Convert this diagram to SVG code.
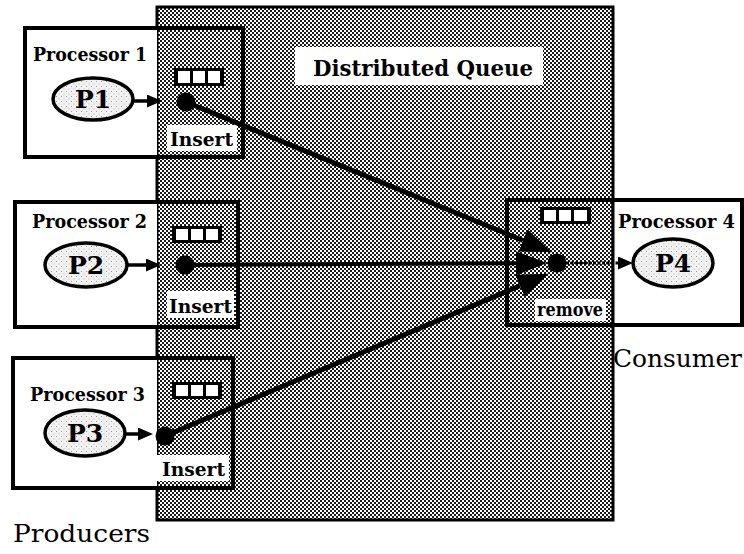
<svg xmlns="http://www.w3.org/2000/svg" width="744" height="554" viewBox="0 0 744 554">
  <defs>
    <!-- coarse halftone used for the shared queue area -->
    <pattern id="dither" width="4" height="4" patternUnits="userSpaceOnUse">
      <rect width="4" height="4" fill="#ffffff"/>
      <rect x="0" y="0" width="2" height="2" fill="#1a1a1a"/>
      <rect x="2" y="2" width="2" height="2" fill="#1a1a1a"/>
    </pattern>
    <!-- light speckle used inside process ellipses -->
    <pattern id="speckle" width="5" height="5" patternUnits="userSpaceOnUse">
      <rect width="5" height="5" fill="#f2f2f2"/>
      <rect x="1" y="1" width="1" height="1" fill="#9a9a9a"/>
      <rect x="3.5" y="3.5" width="1" height="1" fill="#b5b5b5"/>
    </pattern>
    <marker id="bigHead" markerUnits="userSpaceOnUse" markerWidth="32" markerHeight="26" refX="0" refY="12" orient="auto">
      <path d="M0,0 L31,12 L0,24 Z" fill="#000"/>
    </marker>
    <marker id="smallHead" markerUnits="userSpaceOnUse" markerWidth="16" markerHeight="14" refX="0" refY="6.5" orient="auto">
      <path d="M0,0 L15,6.5 L0,13 Z" fill="#000"/>
    </marker>
  </defs>
  <style>
    .box { fill: none; stroke: #000; stroke-width: 4; }
    .white { fill: #fff; }
    .proc { font-family: "DejaVu Serif", "Liberation Serif", serif; font-weight: bold; font-size: 18px; fill: #000; }
    .pid { font-family: "DejaVu Serif", "Liberation Serif", serif; font-weight: bold; font-size: 25px; fill: #000; text-anchor: middle; }
    .tag { font-family: "DejaVu Serif", "Liberation Serif", serif; font-weight: bold; font-size: 18px; fill: #000; }
    .big { font-family: "DejaVu Serif", "Liberation Serif", serif; font-size: 24px; fill: #000; }
    .title { font-family: "DejaVu Serif", "Liberation Serif", serif; font-weight: bold; font-size: 23px; fill: #000; }
    .ell { fill: url(#speckle); stroke: #000; stroke-width: 3.5; }
    .dot { fill: #000; }
    .qframe { fill: #000; }
    .qcell { fill: #fff; }
    .wire { stroke: #000; fill: none; }
  </style>

  <!-- shared queue area -->
  <g id="queue-area">
    <rect x="157" y="7" width="456" height="513" fill="url(#dither)" stroke="#000" stroke-width="3"/>
    <rect x="295" y="47" width="248" height="38" class="white"/>
    <text x="313" y="76" class="title" textLength="220" lengthAdjust="spacingAndGlyphs">Distributed Queue</text>
  </g>

  <!-- producer 1 -->
  <g id="processor1">
    <rect x="25" y="28" width="132" height="129" class="white"/>
    <rect x="25" y="28" width="218" height="129" class="box"/>
    <text x="33" y="61" class="proc" textLength="114" lengthAdjust="spacingAndGlyphs">Processor 1</text>
    <g>
      <rect x="174" y="68" width="50" height="18" class="qframe"/>
      <rect x="178" y="71" width="12" height="12" class="qcell"/>
      <rect x="193" y="71" width="12" height="12" class="qcell"/>
      <rect x="208" y="71" width="12" height="12" class="qcell"/>
    </g>
    <ellipse cx="93" cy="99" rx="40" ry="21" class="ell"/>
    <text x="93" y="108" class="pid">P1</text>
    <circle cx="186" cy="102" r="9.5" class="dot"/>
    <rect x="167" y="125" width="70" height="26" class="white"/>
    <text x="170" y="146" class="tag" textLength="63" lengthAdjust="spacingAndGlyphs">Insert</text>
  </g>

  <!-- producer 2 -->
  <g id="processor2">
    <rect x="15" y="202" width="142" height="125" class="white"/>
    <rect x="15" y="202" width="223" height="125" class="box"/>
    <text x="32" y="228" class="proc" textLength="115" lengthAdjust="spacingAndGlyphs">Processor 2</text>
    <g>
      <rect x="172" y="226" width="50" height="17" class="qframe"/>
      <rect x="176" y="229" width="12" height="11" class="qcell"/>
      <rect x="191" y="229" width="12" height="11" class="qcell"/>
      <rect x="206" y="229" width="12" height="11" class="qcell"/>
    </g>
    <ellipse cx="86" cy="265" rx="41" ry="22" class="ell"/>
    <text x="86" y="274" class="pid">P2</text>
    <circle cx="185" cy="265" r="9.5" class="dot"/>
    <rect x="167" y="291" width="67" height="27" class="white"/>
    <text x="169" y="313" class="tag" textLength="63" lengthAdjust="spacingAndGlyphs">Insert</text>
  </g>

  <!-- producer 3 -->
  <g id="processor3">
    <rect x="13" y="358" width="144" height="130" class="white"/>
    <rect x="13" y="358" width="220" height="130" class="box"/>
    <text x="30" y="401" class="proc" textLength="115" lengthAdjust="spacingAndGlyphs">Processor 3</text>
    <g>
      <rect x="172" y="382" width="50" height="17" class="qframe"/>
      <rect x="176" y="385" width="12" height="11" class="qcell"/>
      <rect x="191" y="385" width="12" height="11" class="qcell"/>
      <rect x="206" y="385" width="12" height="11" class="qcell"/>
    </g>
    <ellipse cx="85" cy="433" rx="40" ry="23" class="ell"/>
    <text x="85" y="442" class="pid">P3</text>
    <circle cx="165" cy="436" r="9.5" class="dot"/>
    <rect x="157" y="455" width="72" height="26" class="white"/>
    <text x="162" y="476" class="tag" textLength="63" lengthAdjust="spacingAndGlyphs">Insert</text>
  </g>

  <!-- consumer -->
  <g id="processor4">
    <rect x="613" y="200" width="129" height="125" class="white"/>
    <rect x="507" y="200" width="235" height="125" class="box"/>
    <line x1="613" y1="200" x2="613" y2="325" stroke="#000" stroke-width="3"/>
    <text x="618" y="228" class="proc" textLength="117" lengthAdjust="spacingAndGlyphs">Processor 4</text>
    <g>
      <rect x="540" y="207" width="51" height="17" class="qframe"/>
      <rect x="544" y="210" width="12" height="11" class="qcell"/>
      <rect x="559" y="210" width="12" height="11" class="qcell"/>
      <rect x="574" y="210" width="13" height="11" class="qcell"/>
    </g>
    <ellipse cx="673" cy="263" rx="40" ry="24" class="ell"/>
    <text x="673" y="272" class="pid">P4</text>
    <circle cx="557" cy="263" r="9.5" class="dot"/>
    <rect x="535" y="299" width="71" height="22" class="white"/>
    <text x="537" y="316" class="tag" textLength="66" lengthAdjust="spacingAndGlyphs">remove</text>
  </g>

  <!-- group captions -->
  <g id="captions">
    <text x="613" y="367" class="big" textLength="129" lengthAdjust="spacingAndGlyphs">Consumer</text>
    <text x="13" y="542" class="big" textLength="137" lengthAdjust="spacingAndGlyphs">Producers</text>
  </g>

  <!-- connectors -->
  <g id="connectors">
    <line x1="133" y1="101" x2="147" y2="101" class="wire" stroke-width="3.5" marker-end="url(#smallHead)"/>
    <line x1="127" y1="265" x2="146" y2="265" class="wire" stroke-width="3.5" marker-end="url(#smallHead)"/>
    <line x1="125" y1="434" x2="138" y2="434" class="wire" stroke-width="3.5" marker-end="url(#smallHead)"/>
    <line x1="186" y1="102" x2="523" y2="240.5" class="wire" stroke-width="5" marker-end="url(#bigHead)"/>
    <line x1="185" y1="265" x2="516" y2="263.2" class="wire" stroke-width="4" marker-end="url(#bigHead)"/>
    <line x1="165" y1="436" x2="520" y2="285.8" class="wire" stroke-width="5" marker-end="url(#bigHead)"/>
    <line x1="566" y1="263" x2="618" y2="263" class="wire" stroke-width="3" stroke-dasharray="3 1.5" marker-end="url(#smallHead)"/>
  </g>
</svg>
